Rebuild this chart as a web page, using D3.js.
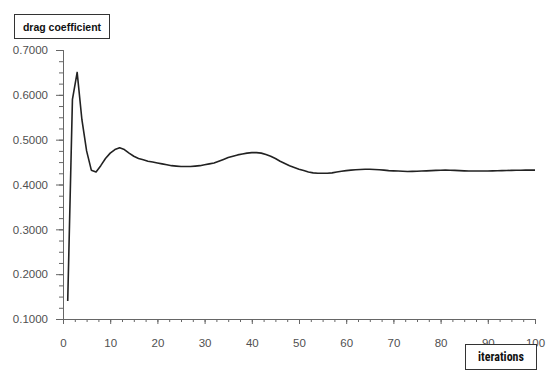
<!DOCTYPE html>
<html>
<head>
<meta charset="utf-8">
<script src="https://cdn.jsdelivr.net/npm/d3@7/dist/d3.min.js"></script>
<style>
  html, body { margin: 0; padding: 0; background: #fff; }
  svg { display: block; }
</style>
</head>
<body>
<svg id="chart" width="550" height="379"></svg>
<script>
// ---- data ----
const iterations = d3.range(1, 101);
const dragCoefficient = [
  0.140, 0.590, 0.650, 0.545, 0.475, 0.432, 0.428, 0.442, 0.458, 0.470,
  0.478, 0.482, 0.478, 0.470, 0.463, 0.458, 0.455, 0.452, 0.450, 0.448,
  0.446, 0.444, 0.442, 0.441, 0.440, 0.440, 0.440, 0.441, 0.442, 0.444,
  0.446, 0.448, 0.452, 0.456, 0.460, 0.463, 0.466, 0.468, 0.470, 0.471,
  0.471, 0.470, 0.467, 0.463, 0.458, 0.452, 0.447, 0.442, 0.438, 0.434,
  0.431, 0.428, 0.426, 0.425, 0.425, 0.425, 0.426, 0.428, 0.4295, 0.431,
  0.432, 0.433, 0.4335, 0.434, 0.434, 0.4335, 0.433, 0.432, 0.431, 0.4305,
  0.430, 0.4295, 0.429, 0.4292, 0.4295, 0.430, 0.4305, 0.431, 0.4315, 0.4318,
  0.432, 0.4318, 0.4315, 0.431, 0.4305, 0.4302, 0.430, 0.430, 0.430, 0.4302,
  0.4305, 0.4308, 0.431, 0.4313, 0.4315, 0.4317, 0.4318, 0.432, 0.432, 0.432
];
const xTicks = [0, 10, 20, 30, 40, 50, 60, 70, 80, 90, 100];
const yTicks = [0.1, 0.2, 0.3, 0.4, 0.5, 0.6, 0.7];
const yLabel = "drag coefficient";
const xLabel = "iterations";

// ---- layout ----
const svg = d3.select("#chart");
const mLeft = 63, mRight = 535, mTop = 50, mBottom = 319;

const x = d3.scaleLinear().domain([0, 100]).range([mLeft, mRight]);
const y = d3.scaleLinear().domain([0.1, 0.7]).range([mBottom, mTop]);

const axisColor = "#666";
const textColor = "#505050";

const gx = svg.append("g").attr("transform", `translate(0,${mBottom})`);
gx.call(d3.axisBottom(x).tickValues(d3.range(0, 100.01, 2.5)).tickSize(3).tickFormat(""));
gx.append("g").call(d3.axisBottom(x).tickValues(xTicks).tickSize(5).tickPadding(15).tickFormat(d3.format("d")));
gx.selectAll("path.domain").attr("stroke", axisColor);
gx.selectAll("line").attr("stroke", axisColor);
gx.selectAll("text").attr("fill", textColor).style("font-family", "'Liberation Sans', Arial, sans-serif").style("font-size", "11.5px");

const gy = svg.append("g").attr("transform", `translate(${mLeft},0)`);
gy.call(d3.axisLeft(y).tickValues(d3.range(0.1, 0.7001, 0.025)).tickSize(4).tickFormat(""));
gy.append("g").call(d3.axisLeft(y).tickValues(yTicks).tickSize(7).tickPadding(8).tickFormat(d3.format(".4f")));
gy.selectAll("path.domain").attr("stroke", axisColor);
gy.selectAll("line").attr("stroke", axisColor);
gy.selectAll("text").attr("fill", textColor).style("font-family", "'Liberation Sans', Arial, sans-serif").style("font-size", "11.5px");

const line = d3.line()
  .x((d, i) => x(iterations[i]))
  .y(d => y(d));
svg.append("path")
  .datum(dragCoefficient)
  .attr("fill", "none")
  .attr("stroke", "#222")
  .attr("stroke-width", 1.6)
  .attr("stroke-linejoin", "round")
  .attr("d", line);

function boxLabel(x0, y0, w, h, txt, family, size) {
  const g = svg.append("g");
  g.append("rect").attr("x", x0 + 0.5).attr("y", y0 + 0.5).attr("width", w).attr("height", h)
    .attr("fill", "#fff").attr("stroke", "#333").attr("stroke-width", 1);
  g.append("text").attr("x", x0 + w / 2 + 0.5).attr("y", y0 + h / 2 + 0.5)
    .attr("text-anchor", "middle").attr("dominant-baseline", "central")
    .style("font-family", family).style("font-size", size).style("font-weight", "bold")
    .attr("fill", "#111").text(txt);
}
boxLabel(14, 14, 95, 24, yLabel, "'Liberation Sans', Arial, sans-serif", "10.5px");
boxLabel(465, 344, 71, 25, xLabel, "'Liberation Sans Narrow', 'Arial Narrow', 'Roboto Condensed', sans-serif", "12px");
</script>
</body>
</html>
